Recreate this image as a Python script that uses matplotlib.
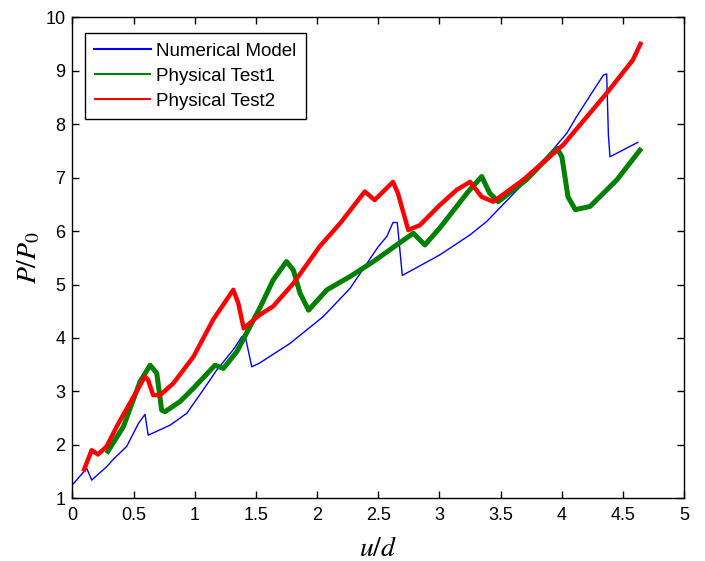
import matplotlib
matplotlib.use("Agg")
import matplotlib.pyplot as plt

# =============================
# DATA
# =============================
model_x = [0.00, 0.118, 0.158, 0.28, 0.335, 0.444, 0.54, 0.594, 0.62, 0.80, 0.935, 1.07, 1.18,
           1.315, 1.384, 1.41, 1.466, 1.53, 1.78, 2.05, 2.27, 2.50, 2.57, 2.62, 2.655, 2.696,
           3.00, 3.25, 3.386, 3.74, 4.04, 4.12, 4.26, 4.34, 4.366, 4.38, 4.393, 4.62]
model_y = [1.25, 1.56, 1.34, 1.59, 1.73, 1.97, 2.40, 2.57, 2.18, 2.37, 2.59, 3.03, 3.40,
           3.78, 4.02, 4.06, 3.46, 3.53, 3.90, 4.40, 4.93, 5.71, 5.90, 6.16, 6.16, 5.17,
           5.55, 5.93, 6.18, 7.02, 7.83, 8.14, 8.64, 8.92, 8.94, 7.80, 7.39, 7.66]

test1_x = [0.28, 0.417, 0.553, 0.635, 0.69, 0.73, 0.757, 0.88, 0.99, 1.166, 1.234, 1.343,
           1.534, 1.64, 1.75, 1.806, 1.86, 1.93, 2.08, 2.27, 2.46, 2.65, 2.786, 2.88,
           3.00, 3.14, 3.235, 3.345, 3.41, 3.48, 3.71, 3.96, 4.00, 4.05, 4.11, 4.23,
           4.45, 4.65]
test1_y = [1.84, 2.34, 3.18, 3.49, 3.34, 2.65, 2.62, 2.81, 3.06, 3.49, 3.43, 3.74,
           4.57, 5.08, 5.43, 5.27, 4.84, 4.52, 4.90, 5.15, 5.43, 5.74, 5.96, 5.74,
           6.05, 6.46, 6.74, 7.02, 6.71, 6.55, 6.96, 7.55, 7.39, 6.64, 6.40, 6.46,
           6.96, 7.55]

test2_x = [0.09, 0.158, 0.21, 0.28, 0.376, 0.50, 0.594, 0.62, 0.66, 0.717, 0.825, 0.99,
           1.15, 1.315, 1.356, 1.40, 1.53, 1.64, 1.806, 2.02, 2.19, 2.39, 2.47, 2.62,
           2.66, 2.745, 2.84, 3.00, 3.14, 3.25, 3.345, 3.44, 3.685, 4.01, 4.366, 4.58, 4.65]
test2_y = [1.50, 1.90, 1.82, 1.97, 2.40, 2.90, 3.28, 3.21, 2.93, 2.93, 3.15, 3.65,
           4.34, 4.90, 4.65, 4.18, 4.43, 4.59, 5.02, 5.71, 6.15, 6.74, 6.58, 6.92,
           6.71, 6.02, 6.11, 6.48, 6.77, 6.92, 6.64, 6.55, 6.96, 7.61, 8.58, 9.20, 9.54]

labels = ["Numerical Model", "Physical Test1", "Physical Test2"]
x_ticks = [0, 0.5, 1, 1.5, 2, 2.5, 3, 3.5, 4, 4.5, 5]
x_ticklabels = ["0", "0.5", "1", "1.5", "2", "2.5", "3", "3.5", "4", "4.5", "5"]
y_ticks = [1, 2, 3, 4, 5, 6, 7, 8, 9, 10]

# =============================
# PLOT
# =============================
plt.rcParams["font.family"] = ["Liberation Sans", "DejaVu Sans"]
plt.rcParams["mathtext.fontset"] = "stix"

fig = plt.figure(figsize=(7.05, 5.61), dpi=100)
ax = fig.add_axes([0.1026, 0.1118, 0.868, 0.8574])

ax.plot(model_x, model_y, color=(0, 0, 1), lw=1.0, label=labels[0])
ax.plot(test1_x, test1_y, color=(0, 0.5, 0), lw=3.6, label=labels[1],
        solid_joinstyle="round", solid_capstyle="butt")
ax.plot(test2_x, test2_y, color=(1, 0, 0), lw=3.2, label=labels[2],
        solid_joinstyle="round", solid_capstyle="butt")

ax.set_xlim(0, 5)
ax.set_ylim(1, 10)
ax.set_xticks(x_ticks)
ax.set_xticklabels(x_ticklabels)
ax.set_yticks(y_ticks)
ax.tick_params(direction="in", length=5, width=1, top=True, right=True,
               labelsize=13)
ax.tick_params(axis="x", pad=6)
ax.tick_params(axis="y", pad=5)
for s in ax.spines.values():
    s.set_linewidth(1)

ax.set_xlabel(r"$u/d$", fontsize=20, labelpad=9)
ax.set_ylabel(r"$P/P_0$", fontsize=20, labelpad=2)

leg = ax.legend(loc="upper left", bbox_to_anchor=(0.0208, 0.9667), borderaxespad=0,
                fontsize=13.5, handlelength=3.0, handletextpad=0.3, borderpad=0.5,
                labelspacing=0.42, fancybox=False, framealpha=1)
leg.get_frame().set_edgecolor("black")
leg.get_frame().set_linewidth(1)
for line in leg.get_lines():
    line.set_linewidth(1.5)

plt.savefig("out.png", dpi=100)
